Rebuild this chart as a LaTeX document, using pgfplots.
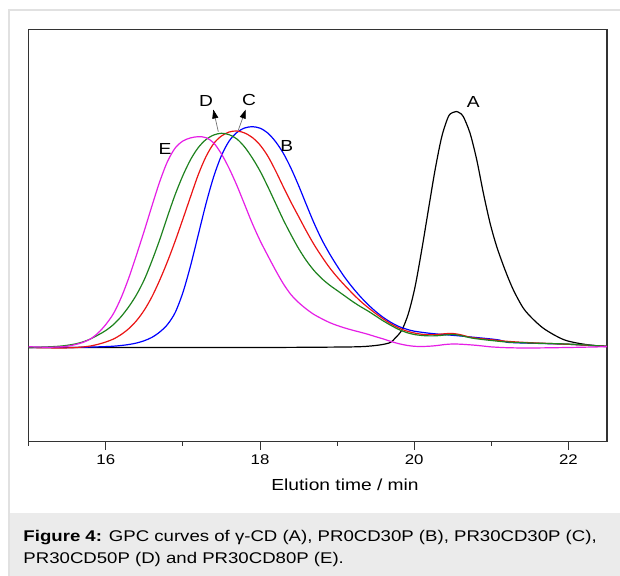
\documentclass[border=0pt]{standalone}
\usepackage{fontspec}
\setmainfont[FakeStretch=1.2]{Liberation Sans}
\usepackage{pgfplots}
\pgfplotsset{compat=1.18}
\usetikzlibrary{arrows.meta}
\definecolor{cblue}{RGB}{0,0,255}
\definecolor{cred}{RGB}{235,20,20}
\definecolor{cgreen}{RGB}{30,130,30}
\definecolor{cmag}{RGB}{230,30,230}
\definecolor{framegray}{RGB}{225,225,225}
\definecolor{capgray}{RGB}{235,235,235}
\begin{document}
\begin{tikzpicture}[x=1bp,y=1bp]
\useasboundingbox (0,0) rectangle (620,576);
\fill[white] (0,0) rectangle (620,576);
\fill[capgray] (9,0) rectangle (620,63);
\draw[framegray, line width=1.5bp] (9,0) -- (9,566) -- (620,566);
\node[anchor=base west, font=\fontsize{15.5bp}{18bp}\selectfont, inner sep=0pt] at (23.3,34) {\textbf{Figure 4:} GPC curves of γ-CD (A), PR0CD30P (B), PR30CD30P (C),};
\node[anchor=base west, font=\fontsize{15.5bp}{18bp}\selectfont, inner sep=0pt] at (23.3,12.5) {PR30CD50P (D) and PR30CD80P (E).};
\begin{axis}[at={(28.7bp,134.3bp)}, anchor=south west, scale only axis,
  width=578.3bp, height=412.4bp,
  xmin=15, xmax=22.5, ymin=-94.2, ymax=318.2,
  axis line style={line width=1.2bp, black!80},
  xtick={16,18,20,22}, minor xtick={15,17,19,21},
  xtick pos=left, ytick=\empty,
  tick align=outside,
  major tick length=8bp, minor tick length=4bp,
  every tick/.style={black!80, line width=1bp},
  tick label style={font=\fontsize{14bp}{16bp}\selectfont},
  xticklabel style={yshift=-2bp},
  /pgf/number format/assume math mode=true,
  xlabel={Elution time / min},
  xlabel style={at={(axis description cs:0.547,-0.105)}, anchor=center, font=\fontsize{16bp}{19bp}\selectfont},
  every axis plot/.append style={line width=1.2bp, smooth, no markers},
]
% A
\addplot[black] coordinates {(15.0,0) (16.0,0) (17.0,0) (18.0,0) (18.8,0.3) (19.3,0.8) (19.55,2.5) (19.69,5.0) (19.75,9.2) (19.84,17.5) (19.925,34.2) (20.011,60.8) (20.097,97.5) (20.183,137.5) (20.270,177.5) (20.357,210.8) (20.442,230.8) (20.50,235) (20.545,236) (20.59,234.5) (20.637,230.8) (20.724,214.2) (20.811,187.5) (20.897,154.2) (20.984,124.2) (21.070,100.8) (21.178,77.5) (21.286,57.5) (21.416,39.2) (21.545,28) (21.67,19.5) (21.804,13) (21.95,7.5) (22.108,4.5) (22.3,2.2) (22.5,0.8)};
% B
\addplot[cblue] coordinates {(15.0,0) (15.5,0) (15.8,0.4) (16.0,0.9) (16.1,1.3) (16.2,2.0) (16.3,3.0) (16.4,4.5) (16.5,6.8) (16.6,10.2) (16.7,15.5) (16.8,23) (16.9,35) (17.0,55) (17.1,82) (17.2,113) (17.3,144) (17.4,171) (17.5,192) (17.6,206.5) (17.7,215) (17.8,219.5) (17.9,220.8) (18.0,219.3) (18.1,214.5) (18.2,206) (18.3,194.5) (18.4,179.5) (18.5,162) (18.6,143) (18.7,124.5) (18.8,108) (18.9,94) (19.0,81.5) (19.1,70) (19.2,60) (19.3,51) (19.4,43) (19.5,36) (19.6,30) (19.7,25) (19.8,21) (19.9,18.3) (20.0,16.3) (20.2,14.2) (20.4,12.8) (20.6,11.5) (20.8,10) (21.0,8.5) (21.1,7.5) (21.15,6.5) (21.2,5.2) (21.4,4.5) (21.6,4.1) (22.0,3.2) (22.5,1.2)};
% C
\addplot[cred] coordinates {(15.0,0) (15.2,-0.3) (15.4,-0.5) (15.5,-0.4) (15.6,-0.1) (15.7,0.5) (15.8,1.5) (15.9,3.2) (16.0,5.5) (16.1,8.5) (16.2,13) (16.3,19) (16.4,27) (16.5,37.5) (16.6,51) (16.7,67.5) (16.8,86) (16.9,106.5) (17.0,128.5) (17.1,151) (17.2,173) (17.3,191) (17.4,204) (17.5,211.5) (17.6,215.5) (17.7,216.5) (17.8,214.5) (17.9,210) (18.0,202.5) (18.1,191.5) (18.2,177) (18.3,161) (18.4,145.5) (18.5,131) (18.6,116.5) (18.7,103) (18.8,91) (18.9,80) (19.0,70.5) (19.1,62) (19.2,54) (19.3,46.5) (19.4,40) (19.5,34) (19.6,28.5) (19.7,23.5) (19.8,19.5) (19.9,16.5) (20.0,14.5) (20.1,13.2) (20.2,12.7) (20.3,13) (20.4,13.8) (20.5,14) (20.6,12.8) (20.7,10.7) (20.8,9.4) (21.0,7.8) (21.2,6.2) (21.5,4.8) (22.0,3.2) (22.5,1.2)};
% D
\addplot[cgreen] coordinates {(15.0,0) (15.1,0.2) (15.2,0.5) (15.3,0.8) (15.4,1.3) (15.5,2.2) (15.6,3.5) (15.7,5.5) (15.8,8.5) (15.9,12.5) (16.0,17) (16.1,23) (16.2,31) (16.3,41) (16.4,53) (16.5,68) (16.6,87) (16.7,108) (16.8,131) (16.9,153) (17.0,172) (17.1,188) (17.2,200) (17.3,208) (17.4,212.5) (17.5,214.2) (17.6,212.8) (17.7,208.5) (17.8,200.5) (17.9,189.5) (18.0,176.5) (18.1,161) (18.2,144.5) (18.3,128) (18.4,113) (18.5,99) (18.6,87) (18.7,77) (18.8,69) (18.9,62.5) (19.0,57) (19.1,51.5) (19.2,46) (19.3,41) (19.4,36.5) (19.5,31.5) (19.6,26.5) (19.7,22) (19.8,18) (19.9,15) (20.0,13) (20.1,12) (20.2,11.6) (20.3,11.8) (20.4,12.5) (20.5,13) (20.6,12) (20.7,10.2) (20.8,8.8) (21.0,7) (21.2,5.5) (21.5,4.5) (22.0,3.4) (22.5,1.2)};
% E
\addplot[cmag] coordinates {(15.0,0.8) (15.1,0.5) (15.2,0.3) (15.3,0.3) (15.4,0.6) (15.5,1.3) (15.6,2.8) (15.7,5.0) (15.8,8.5) (15.9,14.5) (16.0,23) (16.1,34) (16.2,50) (16.3,70) (16.4,93) (16.5,117) (16.6,142) (16.7,166) (16.8,186) (16.9,199.5) (17.0,206.5) (17.1,209.6) (17.2,210.8) (17.3,209.8) (17.4,204.5) (17.5,193.5) (17.6,179) (17.7,162) (17.8,143) (17.9,124) (18.0,107) (18.1,92) (18.2,77.5) (18.3,64) (18.4,53) (18.5,45) (18.6,38.5) (18.7,33) (18.8,28.8) (18.9,25) (19.0,22) (19.1,19.5) (19.2,17.3) (19.3,15.3) (19.4,13.2) (19.5,10.8) (19.6,8.5) (19.7,6.0) (19.8,3.8) (19.9,2.2) (20.0,1.2) (20.1,1.0) (20.2,1.3) (20.3,2.0) (20.4,3.0) (20.5,3.5) (20.6,3.3) (20.7,2.8) (20.8,2.2) (20.9,1.4) (21.0,0.6) (21.2,-0.2) (21.5,-0.5) (22.0,0) (22.5,0.8)};
\node[font=\fontsize{16bp}{18bp}\selectfont] at (axis cs:20.767,245.8) {A};
\node[font=\fontsize{16bp}{18bp}\selectfont] at (axis cs:18.346,201.5) {B};
\node[font=\fontsize{16bp}{18bp}\selectfont] at (axis cs:17.857,247.5) {C};
\node[font=\fontsize{16bp}{18bp}\selectfont] at (axis cs:17.300,246.8) {D};
\node[font=\fontsize{16bp}{18bp}\selectfont] at (axis cs:16.768,198.2) {E};
\draw[black!55, line width=0.7bp, -{Triangle[length=9bp,width=6bp,color=black]}] (axis cs:17.459,215.8) -- (axis cs:17.394,238);
\draw[black!55, line width=0.7bp, -{Triangle[length=9bp,width=6bp,color=black]}] (axis cs:17.719,217.5) -- (axis cs:17.815,238);
\end{axis}
\end{tikzpicture}
\end{document}
